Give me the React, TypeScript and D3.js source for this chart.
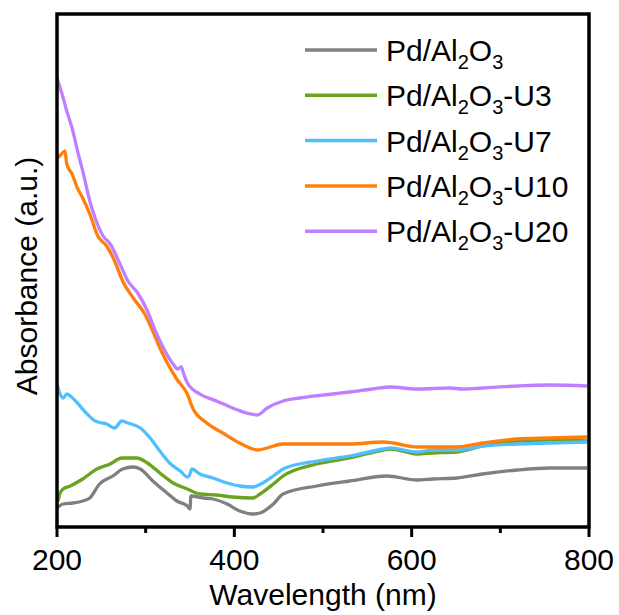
import React from "react";
import * as d3 from "d3";

// UV-vis absorbance spectra (arbitrary units) vs wavelength in nm
const wlU20 = [200, 207, 211, 217, 224, 229, 237, 243, 252, 260, 271, 280, 291, 302, 311, 320, 331, 336, 340, 343, 347, 361, 380, 398, 414, 426, 437, 455, 474, 511, 530, 556, 576, 606, 643, 658, 680, 719, 756, 798];
const absU20 = [4.49, 4.29, 4.16, 3.99, 3.73, 3.56, 3.26, 3.09, 2.91, 2.83, 2.63, 2.46, 2.34, 2.16, 1.96, 1.79, 1.63, 1.58, 1.60, 1.53, 1.44, 1.33, 1.26, 1.19, 1.14, 1.12, 1.19, 1.26, 1.29, 1.33, 1.35, 1.38, 1.40, 1.38, 1.39, 1.38, 1.39, 1.41, 1.42, 1.41];

const wlU10 = [201, 205, 209, 211, 217, 223, 229, 237, 246, 256, 265, 274, 286, 299, 308, 316, 325, 335, 347, 353, 369, 387, 406, 421, 426, 437, 455, 493, 530, 568, 579, 606, 624, 651, 680, 719, 756, 798];
const absU10 = [3.69, 3.73, 3.76, 3.63, 3.53, 3.39, 3.29, 3.13, 2.91, 2.81, 2.66, 2.46, 2.29, 2.13, 1.96, 1.79, 1.63, 1.48, 1.33, 1.19, 1.04, 0.94, 0.84, 0.78, 0.77, 0.79, 0.83, 0.83, 0.83, 0.85, 0.84, 0.80, 0.80, 0.80, 0.84, 0.88, 0.89, 0.90];

const wlU7 = [200, 203, 207, 211, 215, 223, 234, 243, 256, 265, 273, 280, 294, 305, 316, 327, 339, 347, 349, 352, 361, 376, 392, 406, 421, 432, 444, 455, 493, 530, 568, 576, 606, 624, 651, 680, 719, 756, 798];
const absU7 = [1.43, 1.34, 1.29, 1.33, 1.31, 1.24, 1.13, 1.06, 1.03, 0.99, 1.06, 1.04, 0.99, 0.89, 0.76, 0.64, 0.56, 0.50, 0.51, 0.58, 0.53, 0.49, 0.44, 0.41, 0.40, 0.44, 0.51, 0.58, 0.66, 0.71, 0.78, 0.79, 0.75, 0.77, 0.77, 0.81, 0.83, 0.84, 0.85];

const wlU3 = [200, 201, 203, 207, 215, 229, 245, 260, 273, 290, 302, 316, 331, 347, 361, 380, 398, 421, 429, 444, 455, 493, 530, 568, 576, 606, 624, 651, 680, 719, 756, 798];
const absU3 = [0.34, 0.26, 0.33, 0.38, 0.41, 0.48, 0.58, 0.63, 0.69, 0.69, 0.64, 0.54, 0.44, 0.38, 0.33, 0.32, 0.30, 0.29, 0.33, 0.43, 0.51, 0.63, 0.69, 0.77, 0.78, 0.73, 0.74, 0.75, 0.81, 0.86, 0.87, 0.86];

const wlBare = [200, 207, 218, 229, 237, 248, 263, 274, 286, 294, 308, 324, 335, 347, 350, 351, 365, 376, 392, 406, 421, 429, 444, 455, 493, 530, 572, 606, 624, 651, 680, 719, 756, 798];
const absBare = [0.19, 0.23, 0.24, 0.26, 0.29, 0.43, 0.51, 0.58, 0.60, 0.58, 0.46, 0.34, 0.26, 0.21, 0.18, 0.31, 0.29, 0.28, 0.23, 0.16, 0.13, 0.14, 0.23, 0.33, 0.41, 0.46, 0.51, 0.47, 0.48, 0.49, 0.53, 0.57, 0.59, 0.59];

const xTicks = [200, 400, 600, 800];
const xMinorTicks = [300, 500, 700];

type Series = { suffix: string; color: string; wl: number[]; abs: number[] };

const series: Series[] = [
  { suffix: "", color: "#808080", wl: wlBare, abs: absBare },
  { suffix: "-U3", color: "#6aa31e", wl: wlU3, abs: absU3 },
  { suffix: "-U7", color: "#50bfff", wl: wlU7, abs: absU7 },
  { suffix: "-U10", color: "#ff7f0a", wl: wlU10, abs: absU10 },
  { suffix: "-U20", color: "#bf7fff", wl: wlU20, abs: absU20 },
];

const W = 619;
const H = 615;
const left = 57;
const right = 589;
const top = 14;
const bottom = 527;
const font = "'Liberation Sans', Arial, Helvetica, sans-serif";
const fs = 30;

export default function App() {
  const x = d3.scaleLinear().domain([200, 800]).range([left, right]);
  const y = d3.scaleLinear().domain([0, 5.13]).range([bottom, top]);
  const line = d3
    .line<[number, number]>()
    .x((d) => x(d[0]))
    .y((d) => y(d[1]))
    .curve(d3.curveMonotoneX);

  const legendY0 = 50;
  const legendDy = 45.3;

  return (
    <svg
      width={W}
      height={H}
      style={{ position: "absolute", left: 0, top: 0, background: "#fff" }}
      fontFamily={font}
    >
      <rect x={0} y={0} width={W} height={H} fill="#fff" />
      <defs>
        <clipPath id="plot">
          <rect x={left} y={top} width={right - left} height={bottom - top} />
        </clipPath>
      </defs>
      <g clipPath="url(#plot)">
        {series.map((s, i) => (
          <path
            key={i}
            d={line(s.wl.map((w, j) => [w, s.abs[j]] as [number, number])) || ""}
            fill="none"
            stroke={s.color}
            strokeWidth={3.3}
            strokeLinejoin="round"
          />
        ))}
      </g>

      {/* frame */}
      <rect
        x={left}
        y={top}
        width={right - left}
        height={bottom - top}
        fill="none"
        stroke="#000"
        strokeWidth={3.5}
      />

      {/* x ticks */}
      {xTicks.map((t) => (
        <g key={t}>
          <line x1={x(t)} x2={x(t)} y1={bottom} y2={bottom + 10} stroke="#000" strokeWidth={3} />
          <text x={x(t)} y={570} textAnchor="middle" fontSize={fs} fill="#000">
            {t}
          </text>
        </g>
      ))}
      {xMinorTicks.map((t) => (
        <line key={t} x1={x(t)} x2={x(t)} y1={bottom} y2={bottom + 6} stroke="#000" strokeWidth={3} />
      ))}

      <text x={(left + right) / 2} y={605} textAnchor="middle" fontSize={fs} fill="#000">
        Wavelength (nm)
      </text>
      <text
        transform={`translate(37, 276) rotate(-90)`}
        textAnchor="middle"
        fontSize={fs}
        fill="#000"
      >
        Absorbance (a.u.)
      </text>

      {/* legend */}
      {series.map((s, i) => {
        const ly = legendY0 + i * legendDy;
        return (
          <g key={i}>
            <line x1={305} x2={377} y1={ly} y2={ly} stroke={s.color} strokeWidth={3.5} />
            <text x={386} y={ly + 11} fontSize={fs} fill="#000">
              Pd/Al
              <tspan fontSize={20} dy={8}>2</tspan>
              <tspan dy={-8}>O</tspan>
              <tspan fontSize={20} dy={8}>3</tspan>
              <tspan dy={-8}>{s.suffix}</tspan>
            </text>
          </g>
        );
      })}
    </svg>
  );
}
